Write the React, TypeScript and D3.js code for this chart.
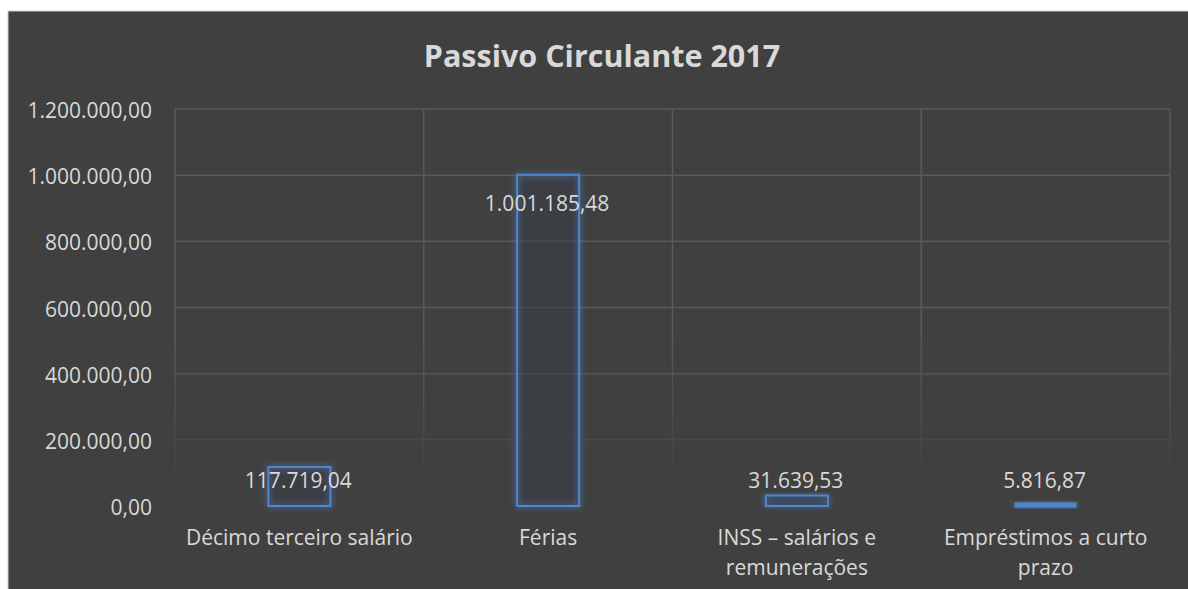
import * as d3 from 'd3';
import React from 'react';

// Passivo Circulante 2017 - column chart, outlined bars
const categories = [
  'Décimo terceiro salário',
  'Férias',
  'INSS – salários e remunerações',
  'Empréstimos a curto prazo',
];
const values = [117719.04, 1001185.48, 31639.53, 5816.87];
const yTicks = [0, 200000, 400000, 600000, 800000, 1000000, 1200000];
const title = 'Passivo Circulante 2017';

const params = {
  width: 1188,
  height: 589,
  plotLeft: 175,
  plotRight: 1170,
  plotTop: 109,
  plotBottom: 506,
  barWidth: 62,
  font: '"Open Sans", sans-serif',
  fontSize: 21,
  text: '#d9d9d9',
  grid: '#5a5a5a',
  bar: '#4f86cc',
  bg: '#404040',
};

const fmt = (v: number) => {
  const [i, d] = v.toFixed(2).split('.');
  return i.replace(/\B(?=(\d{3})+(?!\d))/g, '.') + ',' + d;
};

let ctx: CanvasRenderingContext2D | null = null;
const measure = (s: string) => {
  if (!ctx) ctx = document.createElement('canvas').getContext('2d');
  ctx!.font = `${params.fontSize}px ${params.font}`;
  return ctx!.measureText(s).width;
};

const wrap = (s: string, maxW: number) => {
  const words = s.split(' ');
  const lines: string[] = [];
  let cur = '';
  words.forEach(w => {
    const t = cur ? cur + ' ' + w : w;
    if (cur && measure(t) > maxW) {
      lines.push(cur);
      cur = w;
    } else cur = t;
  });
  if (cur) lines.push(cur);
  return lines;
};

export default function App() {
  const x = d3.scaleBand<string>()
    .domain(categories)
    .range([params.plotLeft, params.plotRight])
    .paddingInner(0)
    .paddingOuter(0);
  const y = d3.scaleLinear()
    .domain([0, 1200000])
    .range([params.plotBottom, params.plotTop]);

  const bounds = [...categories.map(c => x(c)!), params.plotRight];

  return (
    <div style={{ position: 'fixed', left: 0, top: 0, width: params.width, height: params.height, background: '#fff' }}>
      <svg width={params.width} height={params.height} style={{ display: 'block' }}>
        <defs>
          <filter id="glow" x="-30%" y="-30%" width="160%" height="160%">
            <feGaussianBlur in="SourceGraphic" stdDeviation="3" result="b" />
            <feMerge>
              <feMergeNode in="b" />
              <feMergeNode in="SourceGraphic" />
            </feMerge>
          </filter>
          <linearGradient id="fadeAbs" x1="0" y1="0" x2="0" y2={params.height} gradientUnits="userSpaceOnUse">
            <stop offset={330 / params.height} stopColor="#fff" stopOpacity="1" />
            <stop offset={400 / params.height} stopColor="#fff" stopOpacity="0.6" />
            <stop offset={490 / params.height} stopColor="#fff" stopOpacity="0" />
          </linearGradient>
          <mask id="gridMask" maskUnits="userSpaceOnUse" x="0" y="0" width={params.width} height={params.height}>
            <rect x="0" y="0" width={params.width} height={params.height} fill="url(#fadeAbs)" />
          </mask>
        </defs>

        <rect x={8} y={11} width={params.width} height={params.height} fill={params.bg} stroke="#d0d0d0" strokeWidth={1} />

        <text x={602} y={55} textAnchor="middle" dominantBaseline="central"
          fill={params.text} fontFamily={params.font} fontWeight="bold" fontSize={30.5}>{title}</text>

        <g mask="url(#gridMask)">
          {yTicks.filter(t => t > 0).map(t => (
            <line key={t} x1={params.plotLeft} x2={params.plotRight} y1={y(t)} y2={y(t)} stroke={params.grid} strokeWidth={1.5} />
          ))}
          {bounds.map((bx, i) => (
            <line key={i} x1={bx} x2={bx} y1={params.plotTop} y2={params.plotBottom} stroke={params.grid} strokeWidth={1.5} />
          ))}
        </g>

        {yTicks.map(t => (
          <text key={t} x={152} y={y(t) + 1} textAnchor="end" dominantBaseline="central"
            fill={params.text} fontFamily={params.font} fontSize={params.fontSize}>{fmt(t)}</text>
        ))}

        {categories.map((c, i) => {
          const cx = x(c)! + x.bandwidth() / 2;
          const top = y(values[i]);
          const h = y(0) - top;
          return (
            <g key={c}>
              {h > 4 ? (
                <rect x={cx - params.barWidth / 2} y={top} width={params.barWidth} height={h}
                  fill="rgba(55,60,70,0.3)" stroke={params.bar} strokeWidth={2} filter="url(#glow)" />
              ) : (
                <rect x={cx - params.barWidth / 2} y={top - 1.5} width={params.barWidth} height={h + 3}
                  fill={params.bar} filter="url(#glow)" />
              )}
            </g>
          );
        })}

        {categories.map((c, i) => {
          const cx = x(c)! + x.bandwidth() / 2;
          const top = y(values[i]);
          const inside = y(0) - top > 100;
          const ly = inside ? top + 28 : y(0) - 26;
          return (
            <text key={c} x={cx - 1} y={ly} textAnchor="middle" dominantBaseline="central"
              fill={params.text} fontFamily={params.font} fontSize={params.fontSize}>{fmt(values[i])}</text>
          );
        })}

        {categories.map(c => {
          const cx = x(c)! + x.bandwidth() / 2;
          const lines = wrap(c, 240);
          return (
            <text key={c} x={cx} y={537} textAnchor="middle" dominantBaseline="central"
              fill={params.text} fontFamily={params.font} fontSize={params.fontSize}>
              {lines.map((l, j) => (
                <tspan key={j} x={cx} dy={j === 0 ? 0 : 30}>{l}</tspan>
              ))}
            </text>
          );
        })}
      </svg>
    </div>
  );
}
